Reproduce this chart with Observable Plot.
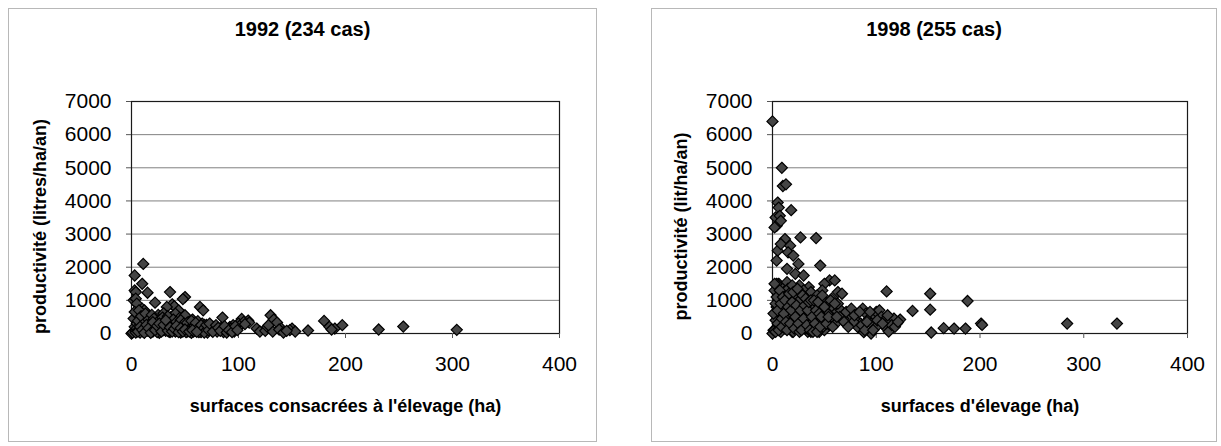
<!DOCTYPE html>
<html>
<head>
<meta charset="utf-8">
<script src="https://cdn.jsdelivr.net/npm/d3@7"></script>
<script src="https://cdn.jsdelivr.net/npm/@observablehq/plot@0.6"></script>
<style>
  html, body { margin: 0; padding: 0; background: #fff; width: 1221px; height: 446px; overflow: hidden; }
  .panel { position: absolute; top: 8px; height: 434px; border: 1px solid #b8b8b8; box-sizing: border-box;
           font-family: "Liberation Sans", Arial, sans-serif; }
  .panel h2 { position: absolute; left: 0; right: 0; top: 9px; margin: 0; line-height: 22px; text-align: center;
              font-size: 20px; font-weight: bold; color: #000; }
  .panel svg { position: absolute; left: 0; top: 0; }
  .panel svg [aria-label="x-axis label"] text,
  .panel svg [aria-label="y-axis label"] text { font-weight: bold; font-size: 18px; }
  /* the y title sits slightly below the middle of the frame */
  .panel svg [aria-label="y-axis label"] { translate: 0px 9px; }
</style>
</head>
<body>
<div id="p1992" class="panel" style="left:8px;width:589px"><h2>1992 (234 cas)</h2></div>
<div id="p1998" class="panel" style="left:651px;width:566px"><h2>1998 (255 cas)</h2></div>
<script>
// Axis ticks shared by both panels
const xTicks = [0, 100, 200, 300, 400];
const yTicks = [0, 1000, 2000, 3000, 4000, 5000, 6000, 7000];

// 1992 survey: livestock area (ha) and milk productivity (litres/ha/year), 234 farms
const surf1992 = [
  0, 1, 3, 11, 10, 3, 4, 2, 4, 15,
  22, 36, 50, 48, 64, 67, 85, 103, 109, 130,
  133, 136, 117, 120, 125, 150, 148, 153, 165, 180,
  185, 190, 197, 187, 231, 254, 304, 5, 38, 40,
  44, 33, 10, 12, 92, 95, 100, 105, 110, 127,
  140, 132, 138, 142, 2, 3, 4, 5, 6, 7,
  8, 9, 10, 11, 12, 13, 14, 15, 16, 17,
  18, 19, 20, 21, 22, 23, 24, 25, 26, 27,
  28, 29, 30, 31, 32, 33, 34, 35, 36, 37,
  38, 39, 40, 41, 42, 43, 44, 45, 46, 47,
  48, 49, 50, 51, 52, 53, 54, 55, 56, 57,
  58, 59, 60, 61, 62, 63, 64, 65, 66, 67,
  68, 69, 70, 71, 72, 74, 75, 77, 78, 80,
  82, 84, 86, 88, 90, 93, 96, 98, 101, 106,
  3, 5, 6, 7, 8, 9, 11, 13, 14, 16,
  17, 18, 19, 20, 21, 23, 24, 25, 26, 27,
  28, 29, 30, 31, 32, 34, 35, 36, 37, 39,
  40, 41, 42, 43, 45, 46, 47, 49, 50, 51,
  52, 53, 55, 56, 58, 59, 60, 62, 63, 65,
  66, 68, 70, 72, 73, 76, 79, 81, 83, 87,
  89, 91, 94, 97, 99, 4, 6, 8, 10, 12,
  14, 16, 18, 20, 22, 24, 26, 28, 30, 32,
  34, 36, 38, 40, 42, 44, 46, 48, 50, 54,
  57, 61, 128, 145
];
const prod1992 = [
  0, 30, 1750, 2100, 1500, 1300, 1250, 1000, 1050, 1230,
  930, 1250, 1100, 1040, 800, 700, 480, 440, 390, 550,
  420, 330, 150, 60, 80, 150, 100, 60, 90, 380,
  200, 150, 250, 120, 120, 210, 110, 900, 880, 820,
  700, 800, 750, 700, 200, 250, 300, 350, 330, 200,
  150, 60, 120, 30, 450, 200, 80, 300, 550, 120,
  400, 250, 600, 50, 350, 180, 480, 90, 280, 520,
  150, 380, 60, 230, 470, 120, 330, 560, 20, 260,
  420, 140, 610, 300, 80, 450, 200, 350, 40, 500,
  260, 130, 400, 600, 90, 320, 180, 470, 30, 250,
  380, 120, 550, 220, 60, 340, 160, 280, 20, 420,
  190, 300, 80, 240, 370, 110, 200, 40, 300, 150,
  260, 90, 180, 30, 220, 130, 80, 200, 150, 60,
  110, 180, 40, 120, 80, 150, 60, 180, 230, 280,
  650, 160, 380, 700, 30, 520, 280, 600, 140, 420,
  60, 330, 560, 200, 450, 300, 40, 180, 400, 90,
  250, 480, 100, 380, 220, 520, 60, 280, 150, 420,
  220, 60, 350, 130, 260, 400, 100, 300, 200, 40,
  320, 100, 150, 380, 60, 230, 320, 150, 40, 250,
  100, 30, 260, 100, 300, 50, 250, 170, 80, 220,
  30, 100, 40, 220, 100, 30, 60, 200, 110, 20,
  260, 160, 20, 340, 100, 230, 300, 60, 260, 400,
  80, 180, 60, 140, 230, 40, 160, 60, 120, 60,
  100, 50, 250, 80
];

// 1998 survey: livestock area (ha) and milk productivity (litres/ha/year), 255 farms
const surf1998 = [
  0, 9, 10, 13, 5, 6, 18, 3, 4, 7,
  2, 8, 27, 42, 12, 5, 8, 17, 4, 15,
  20, 25, 46, 14, 22, 30, 55, 60, 63, 50,
  110, 152, 152, 135, 188, 153, 165, 175, 186, 201,
  202, 284, 332, 123, 110, 112, 95, 88, 0, 1,
  35, 40, 45, 48, 52, 58, 62, 66, 70, 75,
  80, 85, 87, 90, 93, 98, 100, 103, 105, 108,
  113, 117, 120, 115, 82, 78, 72, 68, 95, 100,
  2, 3, 4, 5, 6, 7, 8, 9, 10, 11,
  12, 13, 14, 15, 16, 17, 18, 19, 20, 21,
  22, 23, 24, 25, 26, 27, 28, 29, 30, 31,
  32, 33, 34, 35, 36, 37, 38, 39, 40, 41,
  42, 43, 44, 45, 46, 47, 48, 49, 50, 2,
  3, 4, 5, 6, 7, 8, 9, 10, 11, 12,
  13, 14, 15, 16, 17, 18, 19, 20, 21, 22,
  23, 24, 25, 26, 27, 28, 29, 30, 31, 32,
  33, 34, 35, 36, 37, 38, 39, 40, 41, 42,
  43, 44, 46, 47, 49, 51, 53, 55, 57, 59,
  61, 63, 65, 67, 69, 71, 73, 76, 79, 84,
  86, 89, 91, 94, 97, 101, 106, 111, 118, 121,
  1, 2, 3, 4, 5, 6, 7, 8, 9, 10,
  11, 12, 13, 14, 15, 16, 17, 18, 19, 20,
  21, 22, 23, 24, 25, 26, 27, 28, 29, 30,
  31, 32, 33, 34, 35, 36, 37, 38, 39, 40,
  41, 42, 43, 44, 45, 46, 47, 48, 50, 52,
  54, 56, 58, 60, 62
];
const prod1998 = [
  6400, 5000, 4450, 4500, 3950, 3800, 3720, 3500, 3250, 3550,
  3200, 3400, 2900, 2880, 2850, 2500, 2700, 2650, 2200, 2450,
  2350, 2100, 2050, 1950, 1800, 1750, 1600, 1600, 1250, 1500,
  1270, 1200, 720, 680, 980, 30, 160, 150, 150, 300,
  260, 300, 300, 420, 150, 60, 0, 40, 0, 100,
  1400, 1100, 1000, 1300, 900, 800, 650, 700, 600, 500,
  400, 300, 750, 600, 450, 550, 650, 700, 500, 400,
  350, 450, 300, 250, 200, 350, 250, 450, 300, 200,
  100, 400, 800, 1200, 1500, 200, 600, 1000, 1400, 300,
  700, 1100, 1550, 150, 500, 900, 1300, 50, 400, 800,
  1200, 250, 650, 1050, 1450, 100, 500, 900, 1300, 200,
  600, 1000, 50, 450, 850, 1250, 300, 700, 150, 550,
  950, 250, 650, 50, 400, 800, 200, 600, 100, 1300,
  900, 1500, 300, 700, 1100, 50, 450, 850, 1250, 150,
  550, 950, 1350, 250, 650, 1050, 1450, 50, 350, 750,
  1150, 200, 600, 1000, 400, 1200, 300, 700, 1100, 150,
  500, 900, 200, 600, 50, 800, 350, 750, 100, 450,
  1150, 300, 700, 150, 1000, 400, 600, 250, 1050, 450,
  300, 900, 500, 1200, 350, 650, 200, 750, 550, 650,
  250, 100, 350, 650, 100, 400, 300, 550, 200, 350,
  600, 1500, 50, 1100, 700, 100, 1300, 900, 200, 1100,
  600, 1000, 350, 100, 800, 1200, 300, 700, 950, 1250,
  150, 500, 850, 1350, 300, 50, 700, 100, 1150, 450,
  850, 1050, 250, 700, 950, 100, 1000, 500, 50, 1000,
  300, 700, 50, 950, 600, 200, 500, 1150, 800, 300,
  500, 1000, 200, 900, 500
];

const fmt = d3.format("d");

function scatter({surf, prod, width, marginLeft, marginRight, xLabel, yLabel}) {
  const farms = surf.map((s, i) => ({surface: s, productivite: prod[i]}));
  return Plot.plot({
    width,
    height: 431,
    marginLeft,
    marginRight,
    marginTop: 92,
    marginBottom: 107,
    style: {fontFamily: "'Liberation Sans', Arial, sans-serif", fontSize: "21px", color: "#000", background: "transparent", overflow: "visible"},
    x: {domain: [0, 400]},
    y: {domain: [0, 7000]},
    marks: [
      Plot.gridY(yTicks, {stroke: "#808080", strokeOpacity: 1, strokeWidth: 1}),
      Plot.frame({stroke: "#1a1a1a", strokeWidth: 1.2}),
      Plot.axisX(xTicks, {tickSize: 5, tickPadding: 18, stroke: "#555", label: xLabel, labelAnchor: "center", labelArrow: "none", labelOffset: 78, tickFormat: fmt}),
      Plot.axisY(yTicks, {tickSize: 5, tickPadding: 15, stroke: "#555", label: yLabel, labelAnchor: "center", labelArrow: "none", labelOffset: 98, tickFormat: fmt}),
      Plot.dot(farms, {x: "surface", y: "productivite", symbol: "diamond2", r: 5, fill: "#444", stroke: "#000", strokeWidth: 1.2})
    ]
  });
}

document.getElementById("p1992").append(scatter({
  surf: surf1992, prod: prod1992, width: 587, marginLeft: 122, marginRight: 37,
  xLabel: "surfaces consacrées à l'élevage (ha)", yLabel: "productivité (litres/ha/an)"
}));
document.getElementById("p1998").append(scatter({
  surf: surf1998, prod: prod1998, width: 564, marginLeft: 120, marginRight: 29,
  xLabel: "surfaces d'élevage (ha)", yLabel: "productivité (lit/ha/an)"
}));
</script>
</body>
</html>
